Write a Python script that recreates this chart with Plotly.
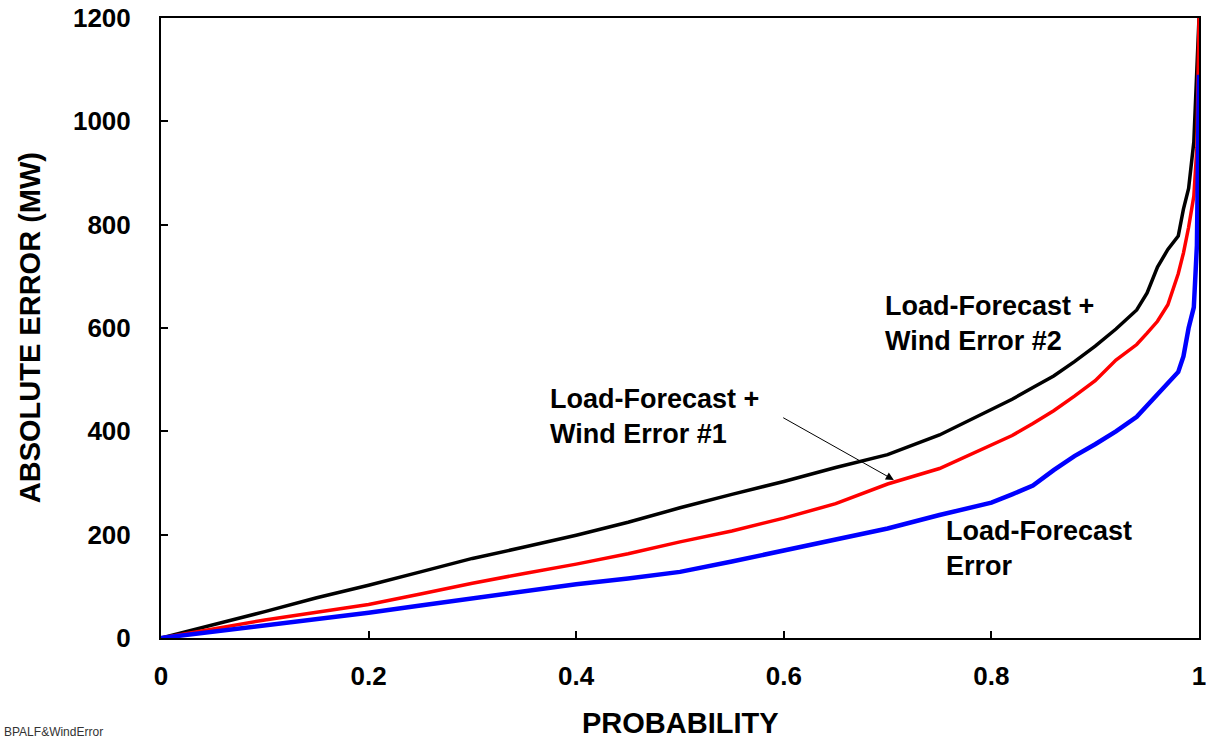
import plotly.graph_objects as go

# ---- data ----
prob = [0, 0.05, 0.1, 0.15, 0.2, 0.25, 0.3, 0.35, 0.4, 0.45, 0.5, 0.55, 0.6,
        0.65, 0.7, 0.75, 0.8, 0.82, 0.84, 0.86, 0.88, 0.9, 0.92, 0.94, 0.95,
        0.96, 0.97, 0.98, 0.985, 0.99, 0.995, 0.998, 1.0]

wind2_err = [0, 25, 51, 78, 102, 128, 154, 176, 199, 224, 252, 278, 303,
             330, 355, 393, 443, 462, 485, 507, 535, 565, 598, 635, 668,
             718, 752, 778, 830, 870, 960, 1085, 1200]

wind1_err = [0, 18, 35, 50, 65, 85, 106, 125, 143, 163, 186, 207, 232,
             260, 298, 328, 375, 392, 415, 440, 468, 498, 538, 568, 590,
             613, 645, 705, 745, 795, 855, 950, 1200]

load_err = [0, 12, 25, 37, 49, 63, 77, 90, 104, 115, 128, 148, 170,
            190, 212, 238, 262, 278, 295, 325, 352, 375, 400, 428, 450,
            472, 495, 515, 545, 600, 640, 760, 1090]

x_ticks = [0, 0.2, 0.4, 0.6, 0.8, 1]
x_tick_text = ["0", "0.2", "0.4", "0.6", "0.8", "1"]
y_ticks = [0, 200, 400, 600, 800, 1000, 1200]
y_tick_text = ["0", "200", "400", "600", "800", "1000", "1200"]

FONT = "Arial, Liberation Sans, sans-serif"

fig = go.Figure()
fig.add_trace(go.Scatter(x=prob, y=wind2_err, mode="lines",
                         line=dict(color="#000000", width=3.5),
                         name="Load-Forecast + Wind Error #2"))
fig.add_trace(go.Scatter(x=prob, y=wind1_err, mode="lines",
                         line=dict(color="#ff0000", width=3.5),
                         name="Load-Forecast + Wind Error #1"))
fig.add_trace(go.Scatter(x=prob, y=load_err, mode="lines",
                         line=dict(color="#0000ff", width=4.5),
                         name="Load-Forecast Error"))

label_font = dict(family=FONT, size=27, color="#000000", weight="bold")

fig.add_annotation(x=0.696, y=609, xref="x", yref="y",
                   text="Load-Forecast +<br>Wind Error #2", showarrow=False,
                   xanchor="left", yanchor="middle", align="left", font=label_font)
fig.add_annotation(x=0.373, y=429, xref="x", yref="y",
                   text="Load-Forecast +<br>Wind Error #1", showarrow=False,
                   xanchor="left", yanchor="middle", align="left", font=label_font)
fig.add_annotation(x=0.754, y=173, xref="x", yref="y",
                   text="Load-Forecast<br>Error", showarrow=False,
                   xanchor="left", yanchor="middle", align="left", font=label_font)
# arrow pointing to wind #1 curve
fig.add_annotation(x=0.706, y=306, xref="x", yref="y",
                   ax=0.598, ay=428, axref="x", ayref="y",
                   text="", showarrow=True, arrowhead=2, arrowsize=1.6,
                   arrowwidth=1, arrowcolor="#000000")

# axis titles
fig.add_annotation(x=0.5, y=-0.137, xref="paper", yref="paper",
                   text="PROBABILITY", showarrow=False,
                   xanchor="center", yanchor="middle",
                   font=dict(family=FONT, size=29, color="#000000", weight="bold"))
fig.add_annotation(x=-0.126, y=0.5, xref="paper", yref="paper",
                   text="ABSOLUTE ERROR (MW)", showarrow=False, textangle=-90,
                   xanchor="center", yanchor="middle",
                   font=dict(family=FONT, size=29, color="#000000", weight="bold"))
# footer
fig.add_annotation(x=0, y=0, xref="paper", yref="paper",
                   xshift=-159, yshift=-103,
                   text="BPALF&WindError", showarrow=False,
                   xanchor="left", yanchor="bottom",
                   font=dict(family=FONT, size=12, color="#333333"))

axis_common = dict(showgrid=False, zeroline=False, showline=True,
                   linecolor="#000000", linewidth=2, mirror=True,
                   ticks="inside", ticklen=7, tickcolor="#000000", tickwidth=1.5,
                   tickfont=dict(family=FONT, size=26, color="#000000", weight="bold"))

fig.update_xaxes(range=[0, 1], tickvals=x_ticks, ticktext=x_tick_text,
                 ticklabelstandoff=14, ticklabeloverflow="allow", **axis_common)
fig.update_yaxes(range=[0, 1200], tickvals=y_ticks, ticktext=y_tick_text,
                 ticklabelstandoff=23, ticklabeloverflow="allow", **axis_common)

fig.update_layout(width=1206, height=740,
                  margin=dict(l=161, r=7, t=18, b=102, autoexpand=False),
                  paper_bgcolor="#ffffff", plot_bgcolor="#ffffff",
                  showlegend=False)

fig.write_html("out.html", config={"displayModeBar": False},
               post_script="document.body.style.margin='0';document.body.style.overflow='hidden';")
